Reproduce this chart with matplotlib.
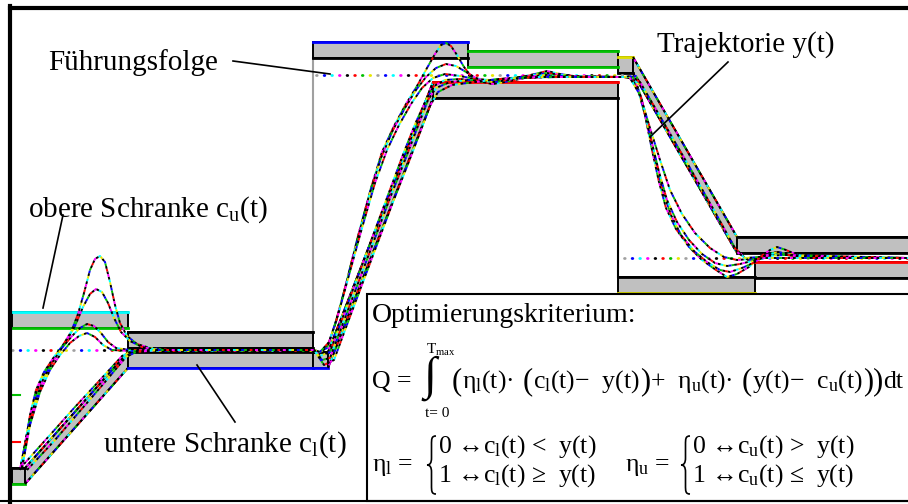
import matplotlib.pyplot as plt
from matplotlib.patches import Polygon, Rectangle
from matplotlib.path import Path
from matplotlib.patches import PathPatch

plt.rcParams["font.family"] = ["Liberation Serif", "DejaVu Serif"]
plt.rcParams["mathtext.fontset"] = "custom"
plt.rcParams["mathtext.rm"] = "Liberation Serif"
plt.rcParams["mathtext.it"] = "Liberation Serif"
plt.rcParams["lines.scale_dashes"] = False

# reference sequence w(t): step times and levels (screen units, y downwards)
w_t = [12, 316, 624, 908]
w_level = [350, 75, 258]

# upper bound c_u(t), piecewise linear segments
cu_x0 = [12, 128, 313, 468, 618, 633, 737]
cu_x1 = [128, 313, 468, 618, 633, 737, 910]
cu_y0 = [328, 348, 58, 67, 73, 73, 253]
cu_y1 = [328, 348, 58, 67, 73, 253, 253]
cu_outer = ["cyan", "black", "blue", "#00c000", "#e0e000", None, "black"]
cu_inner = ["#00c000", "black", "black", "#00c000", "black", None, "black"]

# lower bound c_l(t)
cl_x0 = [12, 25, 128, 313, 328, 433, 618, 755]
cl_x1 = [25, 128, 313, 328, 433, 618, 755, 910]
cl_y0 = [468, 468, 352, 352, 352, 82, 277, 262]
cl_y1 = [468, 352, 352, 352, 82, 82, 277, 262]
cl_outer = ["#00c000", None, "blue", "blue", None, "black", "#e0e000", "black"]
cl_inner = ["black", None, "black", "black", None, "red", "black", "red"]

# simulated trajectories y(t)
traj_1 = [(20, 470), (25, 445), (30, 415), (36, 390), (44, 372), (54, 357), (63, 345), (71, 332),
          (78, 314), (84, 293), (90, 270), (95, 259), (100, 256), (105, 262), (110, 282), (115, 305),
          (120, 323), (127, 336), (137, 344), (150, 348), (170, 350), (240, 350), (314, 350),
          (320, 352), (328, 345), (336, 322), (346, 284), (358, 236), (371, 188), (382, 152),
          (394, 126), (406, 104), (417, 86), (427, 68), (435, 54), (441, 45), (446, 43), (451, 46),
          (457, 55), (464, 67), (471, 76), (480, 81), (492, 84), (505, 81), (520, 77), (535, 74),
          (547, 71), (560, 74), (580, 77), (624, 77), (630, 78), (636, 82), (642, 100), (647, 125),
          (652, 150), (659, 182), (666, 208), (676, 229), (689, 247), (702, 260), (716, 270),
          (727, 277), (737, 274), (749, 267), (760, 257), (770, 250), (777, 247), (786, 250),
          (800, 256), (830, 258), (908, 258)]
traj_2 = [(20, 470), (26, 438), (32, 408), (39, 385), (48, 368), (58, 353), (67, 340), (75, 326),
          (83, 307), (90, 294), (96, 289), (102, 292), (108, 303), (114, 318), (121, 332), (130, 341),
          (142, 347), (160, 350), (250, 350), (314, 350), (320, 352), (327, 348), (334, 328),
          (344, 292), (356, 245), (369, 196), (381, 158), (393, 130), (405, 108), (416, 90),
          (426, 77), (436, 68), (446, 64), (456, 66), (466, 72), (476, 78), (488, 81), (500, 80),
          (520, 77), (547, 73), (570, 76), (624, 77), (630, 78), (637, 86), (644, 108), (650, 135),
          (656, 162), (663, 192), (671, 215), (681, 235), (694, 251), (707, 262), (720, 270),
          (730, 272), (742, 268), (753, 263), (765, 256), (776, 252), (790, 254), (810, 258),
          (908, 258)]
traj_3 = [(22, 468), (28, 432), (35, 402), (43, 380), (52, 363), (62, 348), (72, 336), (80, 328),
          (87, 324), (94, 326), (101, 333), (108, 342), (116, 348), (130, 350), (314, 350),
          (320, 352), (329, 342), (338, 315), (349, 275), (362, 228), (375, 183), (387, 150),
          (399, 125), (411, 104), (422, 88), (433, 78), (445, 74), (460, 76), (475, 79), (490, 80),
          (510, 78), (547, 75), (580, 77), (624, 77), (630, 78), (638, 90), (645, 115), (652, 143),
          (659, 172), (667, 200), (677, 222), (689, 240), (702, 254), (715, 263), (727, 266),
          (740, 264), (752, 261), (766, 256), (780, 254), (800, 257), (908, 258)]
traj_4 = [(22, 468), (30, 425), (40, 392), (50, 370), (60, 355), (70, 343), (79, 336), (87, 333),
          (95, 337), (103, 345), (112, 350), (130, 351), (314, 350), (320, 356), (330, 352),
          (340, 325), (352, 292), (365, 257), (378, 222), (391, 187), (404, 152), (416, 122),
          (426, 100), (434, 86), (445, 80), (460, 79), (478, 81), (493, 84), (505, 82), (525, 78),
          (560, 76), (624, 77), (630, 78), (640, 95), (650, 128), (660, 160), (670, 190),
          (682, 214), (695, 233), (710, 248), (724, 257), (737, 260), (750, 259), (765, 256),
          (785, 255), (908, 258)]
traj_5 = [(24, 464), (50, 435), (75, 407), (100, 380), (122, 356), (132, 351), (150, 350),
          (314, 350), (322, 360), (330, 358), (345, 318), (360, 278), (375, 238), (390, 198),
          (405, 160), (418, 126), (428, 100), (436, 88), (450, 82), (470, 80), (495, 82), (520, 78),
          (560, 77), (624, 77), (630, 77), (636, 76), (660, 117), (685, 160), (710, 205), (735, 248),
          (745, 258), (760, 257), (778, 252), (795, 256), (908, 258)]
traj_6 = [(27, 470), (55, 440), (80, 411), (105, 382), (126, 357), (136, 352), (160, 350),
          (314, 350), (324, 365), (334, 360), (348, 322), (363, 282), (378, 242), (393, 202),
          (408, 164), (421, 130), (430, 106), (438, 92), (452, 85), (475, 82), (500, 79), (540, 77),
          (624, 77), (630, 76), (640, 82), (665, 125), (690, 168), (715, 212), (737, 252),
          (748, 260), (765, 258), (908, 258)]
trajectories = [traj_1, traj_2, traj_3, traj_4, traj_5, traj_6]

# little marks on the left border
tick_levels = [395, 442]
tick_colors = ["#00c000", "red"]

BAND = 16
dot_colors = ["black", "red", "black", "#00c000", "blue", "black", "#e8e800", "cyan", "black", "magenta"]
w_colors = ["#a0a0a0", "#e8e800", "#00c000", "red", "black", "magenta", "cyan", "blue"]


def colour_dashes(ax, xs, ys, colors, dash=2.0, lw=1.4, z=4):
    n = len(colors)
    for k, c in enumerate(colors):
        ax.plot(xs, ys, color=c, lw=lw, zorder=z, solid_capstyle="butt",
                linestyle=(k * dash, (dash, dash * (n - 1))))


def bound_bands(ax, x0, x1, y0, y1, outer, inner, side):
    for i in range(len(x0)):
        oy0 = y0[i] + side * BAND
        oy1 = y1[i] + side * BAND
        poly = [(x0[i], y0[i]), (x1[i], y1[i]), (x1[i], oy1), (x0[i], oy0)]
        ax.add_patch(Polygon(poly, closed=True, fc="#c0c0c0", ec="black", lw=1.4, zorder=2))
        if outer[i] is None:
            colour_dashes(ax, [x0[i], x1[i]], [oy0, oy1], dot_colors, lw=1.4, z=3)
        else:
            ax.plot([x0[i], x1[i]], [oy0, oy1], color=outer[i], lw=2, zorder=3)
        if inner[i] is None:
            colour_dashes(ax, [x0[i], x1[i]], [y0[i], y1[i]], dot_colors, lw=1.4, z=3)
        else:
            ax.plot([x0[i], x1[i]], [y0[i], y1[i]], color=inner[i], lw=2, zorder=3)


def brace(ax, x, y0, y1, w=9, lw=1.2):
    h = y1 - y0
    ym = (y0 + y1) / 2
    xm = x + w * 0.5
    verts = [(x + w, y0), (xm, y0), (xm, y0 + 0.05 * h), (xm, y0 + 0.15 * h),
             (xm, ym - 0.12 * h),
             (xm, ym - 0.03 * h), (x + w * 0.3, ym), (x, ym),
             (x + w * 0.3, ym), (xm, ym + 0.03 * h), (xm, ym + 0.12 * h),
             (xm, y1 - 0.15 * h),
             (xm, y1 - 0.05 * h), (xm, y1), (x + w, y1)]
    codes = [Path.MOVETO, Path.CURVE4, Path.CURVE4, Path.CURVE4, Path.LINETO,
             Path.CURVE4, Path.CURVE4, Path.CURVE4, Path.CURVE4, Path.CURVE4, Path.CURVE4,
             Path.LINETO, Path.CURVE4, Path.CURVE4, Path.CURVE4]
    ax.add_patch(PathPatch(Path(verts, codes), fc="none", ec="black", lw=lw, zorder=7))


fig = plt.figure(figsize=(9.08, 5.04), dpi=100)
ax = fig.add_axes([0, 0, 1, 1])
ax.set_xlim(0, 908)
ax.set_ylim(504, 0)
ax.axis("off")
renderer = fig.canvas.get_renderer()

# frame
ax.plot([10, 10], [6, 504], color="black", lw=3, zorder=8)
ax.plot([10, 908], [8, 8], color="black", lw=3, zorder=8)
ax.plot([0, 908], [501, 501], color="black", lw=1.5, zorder=8)

# bounds
bound_bands(ax, cu_x0, cu_x1, cu_y0, cu_y1, cu_outer, cu_inner, -1)
bound_bands(ax, cl_x0, cl_x1, cl_y0, cl_y1, cl_outer, cl_inner, 1)
for i in range(1, len(cu_x0)):
    if abs(cu_y0[i] - cu_y1[i - 1]) > 40:
        ax.plot([cu_x0[i], cu_x0[i]], [cu_y0[i], cu_y1[i - 1] - BAND], color="#a0a0a0", lw=1.5, zorder=1)
for i in range(1, len(cl_x0)):
    if abs(cl_y0[i] - cl_y1[i - 1]) > 40:
        ax.plot([cl_x0[i], cl_x0[i]], [cl_y1[i - 1] + BAND, cl_y0[i]], color="black", lw=1.5, zorder=1)

for lev, c in zip(tick_levels, tick_colors):
    ax.plot([12, 20], [lev, lev], color=c, lw=1.5, zorder=3)

# reference sequence
for i in range(len(w_level)):
    n = len(w_colors)
    for k, c in enumerate(w_colors):
        ax.plot([w_t[i], w_t[i + 1]], [w_level[i], w_level[i]], color=c, lw=2, zorder=3,
                dash_capstyle="round", linestyle=(k * 5.5, (0.5, 5.5 * n - 0.5)))

# trajectories
for tr in trajectories:
    xs = [p[0] for p in tr]
    ys = [p[1] for p in tr]
    colour_dashes(ax, xs, ys, dot_colors)

# labels
fs = 21
ax.text(48, 70, "Führungsfolge", fontsize=fs, zorder=9)
ax.plot([233, 330], [61, 74], color="black", lw=1.2, zorder=9)
ax.text(28, 217, "obere Schranke c$_{u}$(t)", fontsize=fs, zorder=9)
ax.plot([63, 43], [215, 308], color="black", lw=1.2, zorder=9)
ax.text(103, 452, "untere Schranke c$_{l}$(t)", fontsize=fs, zorder=9)
ax.plot([197, 235], [365, 422], color="black", lw=1.2, zorder=9)
ax.text(657, 52, "Trajektorie y(t)", fontsize=fs, zorder=9)
ax.plot([728, 650], [62, 137], color="black", lw=1.2, zorder=9)

# criterion box
ax.add_patch(Rectangle((367, 294), 600, 207, fc="white", ec="black", lw=1.5, zorder=5))
ax.text(372, 322, "Optimierungskriterium:", fontsize=20, zorder=7)

ff = 18.5
ax.text(372, 388, "Q =", fontsize=ff, zorder=7)
ax.text(430, 378, "∫", fontsize=34, ha="center", va="center", zorder=7)
ax.text(426, 354, "T$_{max}$", fontsize=11, zorder=7)
ax.text(425, 417, "t= 0", fontsize=11, zorder=7)

big = 22
qf = 18.5
pieces = [("(", big), ("η$_{l}$(t)·  ", qf), ("(", big), ("c$_{l}$(t)−  y(t)", qf), (")", big),
          ("+  η$_{u}$(t)·  ", qf), ("(", big), ("y(t)−  c$_{u}$(t)", qf), ("))", big), ("dt", qf)]
x = 452
for s, size in pieces:
    t = ax.text(x, 389 if size == big else 388, s, fontsize=size, zorder=7)
    x += t.get_window_extent(renderer).width

ax.text(372, 467, "η$_{l}$ =", fontsize=ff, va="center", zorder=7)
brace(ax, 427, 436, 494)
ax.text(438, 453, "0 ↔c$_{l}$(t) <  y(t)", fontsize=ff, zorder=7)
ax.text(438, 482, "1 ↔c$_{l}$(t) ≥  y(t)", fontsize=ff, zorder=7)
ax.text(625, 467, "η$_{u}$ =", fontsize=ff, va="center", zorder=7)
brace(ax, 681, 436, 494)
ax.text(692, 453, "0 ↔c$_{u}$(t) >  y(t)", fontsize=ff, zorder=7)
ax.text(692, 482, "1 ↔c$_{u}$(t) ≤  y(t)", fontsize=ff, zorder=7)

fig.savefig("out.png", dpi=100)
